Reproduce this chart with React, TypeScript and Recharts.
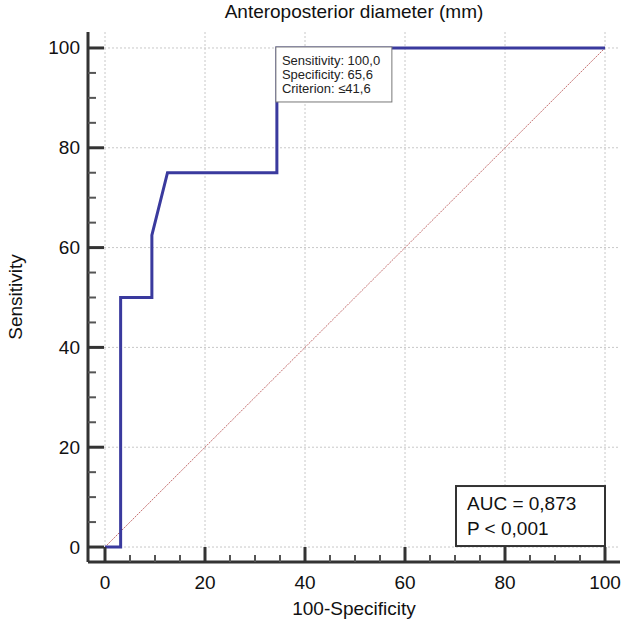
import React from 'react';
import { LineChart, Line, XAxis, YAxis, ReferenceLine, ReferenceDot } from 'recharts';

// ---- data ----
const rocX = [0, 3.125, 3.125, 9.375, 9.375, 12.5, 34.375, 34.375, 100];
const rocY = [0, 0, 50, 50, 62.5, 75, 75, 100, 100];
const diagX = [0, 100];
const diagY = [0, 100];
const majorTicks = [0, 20, 40, 60, 80, 100];
const allTicks = [0, 5, 10, 15, 20, 25, 30, 35, 40, 45, 50, 55, 60, 65, 70, 75, 80, 85, 90, 95, 100];
const criterionPoint = { x: 34.375, y: 100 };
const criterionLines = ['Sensitivity: 100,0', 'Specificity: 65,6', 'Criterion: \u226441,6'];
const statCorner = { x: 100, y: 0 };
const statLines = ['AUC = 0,873', 'P < 0,001'];
const title = 'Anteroposterior diameter (mm)';
const xLabel = '100-Specificity';
const yLabel = 'Sensitivity';

const rocData = rocX.map((x, i) => ({ x, y: rocY[i] }));
const diagData = diagX.map((x, i) => ({ x, y: diagY[i] }));

const FONT = '"Liberation Sans", Arial, sans-serif';

const YTick = (props: any) => {
  const { x, y, payload } = props;
  const v = payload.value;
  const major = v % 20 === 0;
  const ax = x + 8;
  return (
    <g>
      <line x1={ax} x2={ax + (major ? 16 : 8)} y1={y} y2={y} stroke={major ? '#333' : '#555'} strokeWidth={major ? 3 : 2} />
      {major && (
        <text x={x} y={y} textAnchor="end" dominantBaseline="central" fontSize={19} fontFamily={FONT} fill="#111">
          {v}
        </text>
      )}
    </g>
  );
};

const XTick = (props: any) => {
  const { x, y, payload } = props;
  const v = payload.value;
  const major = v % 20 === 0;
  return (
    <g>
      <line x1={x} x2={x} y1={y} y2={y - (major ? 15 : 7)} stroke={major ? '#333' : '#555'} strokeWidth={major ? 3 : 2} />
      {major && (
        <text x={x} y={y + 20} textAnchor="middle" dominantBaseline="central" fontSize={19} fontFamily={FONT} fill="#111">
          {v}
        </text>
      )}
    </g>
  );
};

const CriterionBox = (props: any) => {
  const { cx, cy } = props;
  return (
    <g>
      <rect x={cx - 1} y={cy - 1} width={116} height={55} fill="#fff" stroke="#777" strokeWidth={1} />
      {criterionLines.map((t, i) => (
        <text key={t} x={cx + 5} y={cy + 17 + i * 14} fontSize={13} fontFamily={FONT} fill="#222">
          {t}
        </text>
      ))}
    </g>
  );
};

const StatBox = (props: any) => {
  const { cx, cy } = props;
  return (
    <g>
      <rect x={cx - 149} y={cy - 61} width={149} height={60} fill="#fff" stroke="#333" strokeWidth={2} />
      {statLines.map((t, i) => (
        <text key={t} x={cx - 138} y={cy - 37 + i * 24.5} fontSize={19} fontFamily={FONT} fill="#111">
          {t}
        </text>
      ))}
    </g>
  );
};

export default function App() {
  return (
    <div style={{ position: 'absolute', left: 0, top: 0, width: 621, height: 624, background: '#fff' }}>
      <div
        style={{
          position: 'absolute',
          left: 88,
          width: 532,
          top: 1,
          textAlign: 'center',
          fontFamily: FONT,
          fontSize: 19,
          lineHeight: '22px',
          color: '#111',
        }}
      >
        {title}
      </div>
      <LineChart width={621} height={624} margin={{ top: 32, right: 1, bottom: 0, left: 0 }}>
        <XAxis
          type="number"
          dataKey="x"
          domain={[-3.4, 103]}
          ticks={allTicks}
          interval={0}
          tickSize={0}
          tickMargin={0}
          tickLine={false}
          tick={<XTick />}
          height={62}
          axisLine={{ stroke: '#333', strokeWidth: 3 }}
          allowDataOverflow
          label={{
            content: (p: any) => {
              const vb = p.viewBox || { x: 88, y: 562, width: 532 };
              return (
                <text x={vb.x + vb.width / 2} y={vb.y + 53} textAnchor="middle" fontSize={19} fontFamily={FONT} fill="#111">
                  {xLabel}
                </text>
              );
            },
          }}
        />
        <YAxis
          type="number"
          dataKey="y"
          domain={[-3, 103.2]}
          ticks={allTicks}
          interval={0}
          tickSize={0}
          tickMargin={8}
          tickLine={false}
          tick={<YTick />}
          width={88}
          axisLine={{ stroke: '#333', strokeWidth: 3 }}
          allowDataOverflow
          label={{
            content: (p: any) => {
              const vb = p.viewBox || { x: 0, y: 32, height: 530 };
              const tx = vb.x + 22;
              const ty = vb.y + vb.height / 2;
              return (
                <text x={tx} y={ty} transform={`rotate(-90, ${tx}, ${ty})`} textAnchor="middle" fontSize={19} fontFamily={FONT} fill="#111">
                  {yLabel}
                </text>
              );
            },
          }}
        />
        {majorTicks.map((v) => (
          <ReferenceLine key={'gx' + v} x={v} stroke="#c8c8c8" strokeDasharray="2 2" strokeWidth={1} />
        ))}
        {majorTicks.map((v) => (
          <ReferenceLine key={'gy' + v} y={v} stroke="#c8c8c8" strokeDasharray="2 2" strokeWidth={1} />
        ))}
        <Line
          data={diagData}
          dataKey="y"
          type="linear"
          stroke="#c46e6e"
          strokeWidth={1}
          strokeDasharray="2 1"
          dot={false}
          activeDot={false}
          isAnimationActive={false}
        />
        <Line
          data={rocData}
          dataKey="y"
          type="linear"
          stroke="#3a3a9e"
          strokeWidth={3}
          dot={false}
          activeDot={false}
          isAnimationActive={false}
        />
        <ReferenceDot x={criterionPoint.x} y={criterionPoint.y} r={1} shape={<CriterionBox />} />
        <ReferenceDot x={statCorner.x} y={statCorner.y} r={1} shape={<StatBox />} />
      </LineChart>
    </div>
  );
}
